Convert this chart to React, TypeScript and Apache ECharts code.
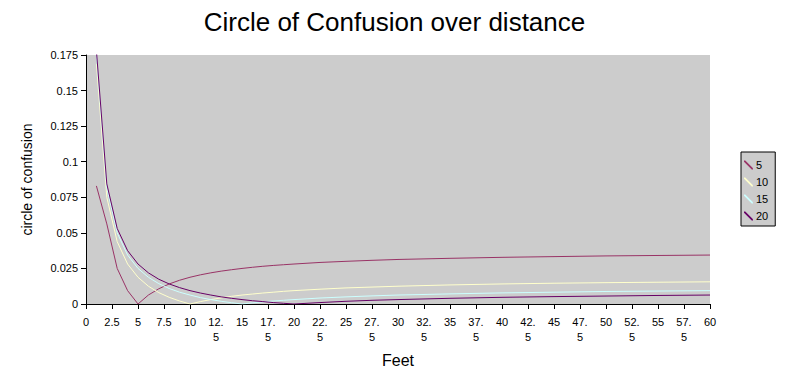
import React, { useEffect, useRef } from "react";
import * as echarts from "echarts";

const distances = [1, 2, 3, 4, 5, 6, 7, 8, 9, 10, 11, 12, 13, 14, 15, 16, 17, 18, 19, 20, 22.5, 25, 27.5, 30, 35, 40, 45, 50, 55, 60];

const focus5 = [0.083, 0.0563, 0.025, 0.0094, 0, 0.0063, 0.0107, 0.0141, 0.0167, 0.0188, 0.0205, 0.0219, 0.0231, 0.0241, 0.025, 0.0258, 0.0265, 0.0271, 0.0276, 0.0281, 0.0292, 0.03, 0.0307, 0.0313, 0.0321, 0.0328, 0.0333, 0.0338, 0.0341, 0.0344];
const focus10 = [0.1688, 0.075, 0.0438, 0.0281, 0.0188, 0.0125, 0.008, 0.0047, 0.0021, 0, 0.0017, 0.0031, 0.0043, 0.0054, 0.0063, 0.007, 0.0077, 0.0083, 0.0089, 0.0094, 0.0104, 0.0113, 0.0119, 0.0125, 0.0134, 0.0141, 0.0146, 0.015, 0.0153, 0.0156];
const focus15 = [0.175, 0.0813, 0.05, 0.0344, 0.025, 0.0188, 0.0143, 0.0109, 0.0083, 0.0063, 0.0045, 0.0031, 0.0019, 0.0009, 0, 0.0008, 0.0015, 0.0021, 0.0026, 0.0031, 0.0042, 0.005, 0.0057, 0.0063, 0.0071, 0.0078, 0.0083, 0.0088, 0.0091, 0.0094];
const focus20 = [0.1781, 0.0844, 0.0531, 0.0375, 0.0281, 0.0219, 0.0174, 0.0141, 0.0115, 0.0094, 0.0077, 0.0063, 0.005, 0.004, 0.0031, 0.0023, 0.0017, 0.001, 0.0005, 0, 0.001, 0.0019, 0.0026, 0.0031, 0.004, 0.0047, 0.0052, 0.0056, 0.006, 0.0063];

const seriesNames = ["5", "10", "15", "20"];
const seriesColors = ["#993366", "#FFFFCC", "#CCFFFF", "#660066"];

const xTickLabels = ["0", "2.5", "5", "7.5", "10", "12.\n5", "15", "17.\n5", "20", "22.\n5", "25", "27.\n5", "30", "32.\n5", "35", "37.\n5", "40", "42.\n5", "45", "47.\n5", "50", "52.\n5", "55", "57.\n5", "60"];

const FONT = "'Liberation Sans', Arial, sans-serif";

export default function App() {
  const ref = useRef<HTMLDivElement>(null);
  useEffect(() => {
    if (!ref.current) return;
    const chart = echarts.init(ref.current, undefined, { renderer: "svg" });
    const all = [focus5, focus10, focus15, focus20];
    chart.setOption({
      animation: false,
      backgroundColor: "#FFFFFF",
      textStyle: { fontFamily: FONT },
      title: {
        text: "Circle of Confusion over distance",
        left: "center",
        top: 4,
        textStyle: { fontFamily: FONT, fontSize: 26, fontWeight: "normal", color: "#000" },
      },
      legend: {
        orient: "vertical",
        left: 741,
        top: 152,
        data: seriesNames,
        icon: "path://M0,0 L1.4,0 L10,8.6 L10,10 L8.6,10 L0,1.4 Z",
        itemWidth: 9,
        itemHeight: 9,
        itemGap: 5,
        padding: [7, 7, 4, 3],
        backgroundColor: "#CCCCCC",
        borderColor: "#000",
        borderWidth: 1,
        borderRadius: 0,
        textStyle: { fontFamily: FONT, fontSize: 11, color: "#000", lineHeight: 12, padding: [0, 0, 0, -2] },
      },
      grid: {
        left: 86,
        right: 79,
        top: 55,
        bottom: 75,
        show: true,
        backgroundColor: "#CCCCCC",
        borderWidth: 0,
      },
      xAxis: {
        type: "value",
        min: 0,
        max: 60,
        interval: 2.5,
        name: "Feet",
        nameLocation: "middle",
        nameGap: 48,
        nameTextStyle: { fontFamily: FONT, fontSize: 16, color: "#000" },
        axisLine: { show: true, lineStyle: { color: "#000", width: 1 } },
        axisTick: { show: true, length: 5, lineStyle: { color: "#000" } },
        splitLine: { show: false },
        axisLabel: {
          color: "#000",
          fontFamily: FONT,
          fontSize: 11,
          lineHeight: 15,
          margin: 10,
          showMinLabel: true,
          showMaxLabel: true,
          formatter: (v: number) => xTickLabels[Math.round(v / 2.5)] ?? String(v),
        },
      },
      yAxis: {
        type: "value",
        min: 0,
        max: 0.175,
        interval: 0.025,
        name: "circle of confusion",
        nameLocation: "middle",
        nameGap: 52,
        nameTextStyle: { fontFamily: FONT, fontSize: 14, color: "#000" },
        axisLine: { show: true, lineStyle: { color: "#000", width: 1 } },
        axisTick: { show: true, length: 5, lineStyle: { color: "#000" } },
        splitLine: { show: false },
        axisLabel: { color: "#000", fontFamily: FONT, fontSize: 11, margin: 8 },
      },
      series: seriesNames.map((name, i) => ({
        name,
        type: "line",
        data: distances.map((d, j) => [d, all[i][j]]),
        showSymbol: false,
        symbol: "none",
        smooth: false,
        clip: true,
        lineStyle: { color: seriesColors[i], width: 1 },
        itemStyle: { color: seriesColors[i] },
      })),
    });
    return () => chart.dispose();
  }, []);
  return <div ref={ref} style={{ position: "fixed", left: 0, top: 0, width: 789, height: 379 }} />;
}
